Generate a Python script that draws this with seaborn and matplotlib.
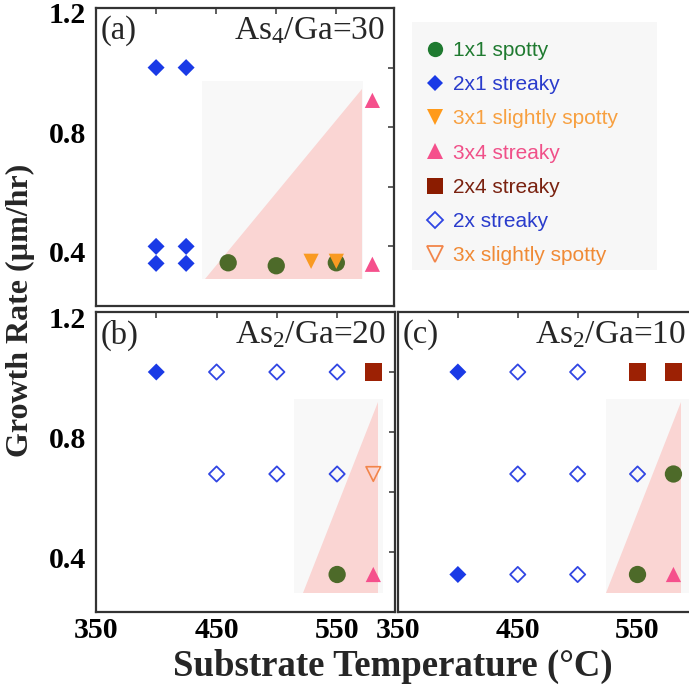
import matplotlib
matplotlib.use("Agg")
import matplotlib.pyplot as plt
import matplotlib.transforms as mtransforms
from matplotlib.lines import Line2D
from matplotlib.patches import Rectangle
import seaborn as sns

# ---------------- data ----------------
panels = ["a", "b", "c"]
panel_tags = ["(a)", "(b)", "(c)"]
panel_titles = [r"As$_{\rm 4}$/Ga=30", r"As$_{\rm 2}$/Ga=20", r"As$_{\rm 2}$/Ga=10"]

x_ticks = [350, 400, 450, 500, 550]
x_ticklabels = ["350", "", "450", "", "550"]
y_ticks = [0.2, 0.4, 0.6, 0.8, 1.0, 1.2]
y_ticklabels = ["", "0.4", "", "0.8", "", "1.2"]

# phases (legend order)
phase_labels = ["1x1 spotty", "2x1 streaky", "3x1 slightly spotty", "3x4 streaky",
                "2x4 streaky", "2x streaky", "3x slightly spotty"]

# temperature (deg C) / growth rate (um/hr) per panel for each phase
spotty_1x1_T = {"a": [460, 500, 550], "b": [550], "c": [580, 550]}
spotty_1x1_R = {"a": [0.345, 0.335, 0.345], "b": [0.325], "c": [0.66, 0.325]}

streaky_2x1_T = {"a": [400, 425, 400, 425, 400, 425], "b": [400], "c": [400, 400]}
streaky_2x1_R = {"a": [1.0, 1.0, 0.4, 0.4, 0.343, 0.343], "b": [1.0], "c": [1.0, 0.325]}

sspotty_3x1_T = {"a": [529, 550], "b": [], "c": []}
sspotty_3x1_R = {"a": [0.35, 0.35], "b": [], "c": []}

streaky_3x4_T = {"a": [580, 580], "b": [580], "c": [580]}
streaky_3x4_R = {"a": [0.89, 0.34], "b": [0.325], "c": [0.325]}

streaky_2x4_T = {"a": [], "b": [580], "c": [550, 580]}
streaky_2x4_R = {"a": [], "b": [1.0], "c": [1.0, 1.0]}

streaky_2x_T = {"a": [], "b": [450, 500, 550, 450, 500, 550],
                "c": [450, 500, 450, 500, 550, 450, 500]}
streaky_2x_R = {"a": [], "b": [1.0, 1.0, 1.0, 0.66, 0.66, 0.66],
                "c": [1.0, 1.0, 0.66, 0.66, 0.66, 0.325, 0.325]}

sspotty_3x_T = {"a": [], "b": [580], "c": []}
sspotty_3x_R = {"a": [], "b": [0.66], "c": []}

# shaded regions (background box and triangle) per panel, data coords
box_T = {"a": [438, 572], "b": [514, 588], "c": [524, 600]}
box_R = {"a": [0.292, 0.955], "b": [0.262, 0.91], "c": [0.262, 0.91]}
tri_T = {"a": [441, 571, 571], "b": [522, 584, 584], "c": [524, 586, 586]}
tri_R = {"a": [0.292, 0.292, 0.928], "b": [0.262, 0.262, 0.90], "c": [0.262, 0.262, 0.90]}

# ---------------- style ----------------
sns.set_theme(style="white")
plt.rcParams["font.family"] = ["Liberation Serif", "DejaVu Serif"]
plt.rcParams["mathtext.fontset"] = "custom"
plt.rcParams["mathtext.rm"] = "Liberation Serif"
plt.rcParams["mathtext.it"] = "Liberation Serif:italic"
plt.rcParams["mathtext.bf"] = "Liberation Serif:bold"

phase_series = [
    (spotty_1x1_T, spotty_1x1_R, dict(marker="o", s=155, color="#4d6a29", edgecolor="none")),
    (streaky_2x1_T, streaky_2x1_R, dict(marker="D", s=75, color="#1a3ae6", edgecolor="none")),
    (sspotty_3x1_T, sspotty_3x1_R, dict(marker="v", s=120, color="#f99a22", edgecolor="none")),
    (streaky_3x4_T, streaky_3x4_R, dict(marker="^", s=120, color="#f5508c", edgecolor="none")),
    (streaky_2x4_T, streaky_2x4_R, dict(marker="s", s=150, color="#9c2104", edgecolor="none")),
    (streaky_2x_T, streaky_2x_R, dict(marker="D", s=60, facecolor="none", edgecolor="#3146e3", linewidth=1.3)),
    (sspotty_3x_T, sspotty_3x_R, dict(marker="v", s=110, facecolor="none", edgecolor="#f2854a", linewidth=1.2)),
]

legend_marker_colors = ["#1f7a30", "#1a3ae6", "#ff9a1a", "#f5508c", "#8b1c00", "#3146e3", "#f2854a"]
legend_text_colors = ["#1f7a30", "#2a3ccc", "#f7a040", "#f05089", "#7a2210", "#2a3ccc", "#f08a35"]

W, H = 689, 685
fig = plt.figure(figsize=(W / 100, H / 100), dpi=100)
fig.patch.set_facecolor("white")

ax_rects = {
    "a": [96 / W, 1 - 306 / H, 298 / W, 298 / H],
    "b": [96 / W, 1 - 612 / H, 299 / W, 300 / H],
    "c": [398 / W, 1 - 612 / H, 297 / W, 300 / H],
}

for pid, tag, title in zip(panels, panel_tags, panel_titles):
    ax = fig.add_axes(ax_rects[pid])
    ax.set_facecolor("white")
    # shaded regions
    bx, by = box_T[pid], box_R[pid]
    ax.fill([bx[0], bx[1], bx[1], bx[0]], [by[0], by[0], by[1], by[1]],
            color="#f8f8f8", lw=0, zorder=0.3)
    ax.fill(tri_T[pid], tri_R[pid], color="#fad5d3", lw=0, zorder=0.5)
    # points
    for T, R, kw in phase_series:
        if len(T[pid]) == 0:
            continue
        sns.scatterplot(x=T[pid], y=R[pid], ax=ax, zorder=3, **kw)
    ax.set(xlabel="", ylabel="")
    ax.set_xlim(350, 598)
    ax.set_ylim(0.2, 1.2)
    ax.set_xticks(x_ticks)
    ax.set_yticks(y_ticks)
    ax.set_xticklabels(x_ticklabels if pid != "a" else [""] * len(x_ticks))
    ax.set_yticklabels(y_ticklabels if pid != "c" else [""] * len(y_ticks))
    ax.tick_params(direction="in", top=True, right=True, length=4, width=1.1,
                   color="#333333", labelsize=21.5, pad=3.5)
    ax.tick_params(axis="y", pad=7)
    for lab in ax.get_xticklabels() + ax.get_yticklabels():
        lab.set_fontweight("bold")
        lab.set_color("black")
    off = mtransforms.ScaledTranslation(0, -5 / 100, fig.dpi_scale_trans)
    for lab in ax.get_yticklabels():
        lab.set_transform(lab.get_transform() + off)
    for sp in ax.spines.values():
        sp.set_color("#333333")
        sp.set_linewidth(1.6)
    ax.text(0.015, 0.975, tag, transform=ax.transAxes, ha="left", va="top", fontsize=23.5)
    ax.text(0.97, 0.975, title, transform=ax.transAxes, ha="right", va="top", fontsize=24)

# legend
fig.patches.append(Rectangle((412 / W, 1 - 270 / H), 245 / W, 248 / H,
                             transform=fig.transFigure, facecolor="#f7f7f7",
                             edgecolor="none", zorder=0))
leg_handles = []
for (T, R, kw), mc in zip(phase_series, legend_marker_colors):
    filled = kw.get("facecolor", None) != "none"
    leg_handles.append(Line2D([], [], linestyle="none", marker=kw["marker"],
                              markersize=11 if kw["marker"] != "D" else 8.5,
                              markerfacecolor=mc if filled else "none",
                              markeredgecolor=mc if not filled else "none",
                              markeredgewidth=1.3))
leg = fig.legend(leg_handles, phase_labels, loc="upper left",
                 bbox_to_anchor=(424.5 / W, 1 - 41 / H), frameon=False,
                 prop=dict(family="Liberation Sans", size=15),
                 handlelength=1.0, handletextpad=0.37, labelspacing=0.73,
                 borderpad=0, borderaxespad=0)
for t, c in zip(leg.get_texts(), legend_text_colors):
    t.set_color(c)

fig.text(20 / W, 1 - 310 / H, "Growth Rate (\u00b5m/hr)", rotation=90, ha="center",
         va="center", fontsize=23, fontweight="bold")
fig.text(393 / W, 1 - 666 / H, "Substrate Temperature (\u00b0C)", ha="center",
         va="center", fontsize=26.5, fontweight="bold")

fig.savefig("out.png", dpi=100)
